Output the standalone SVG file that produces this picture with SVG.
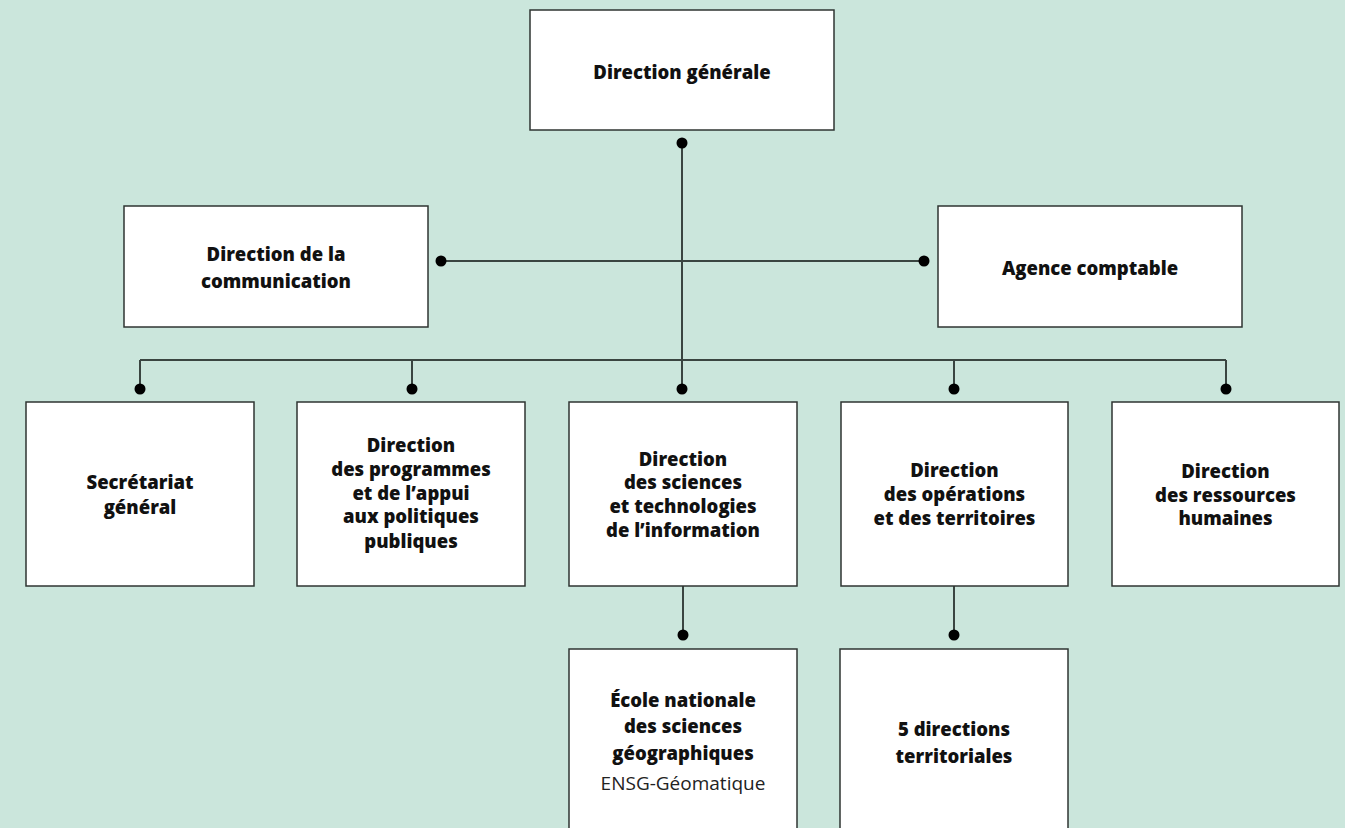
<svg xmlns="http://www.w3.org/2000/svg" width="1345" height="828" viewBox="0 0 1345 828">
<style>
.bg{fill:#cbe6dc}
.box{fill:#ffffff;stroke:#2f3532;stroke-width:1.5}
.t{font-family:"Open Sans","Noto Sans","Liberation Sans",sans-serif;font-weight:800;font-size:18.5px;fill:#111;text-anchor:middle}
.s{font-family:"Open Sans","Noto Sans","Liberation Sans",sans-serif;font-weight:400;font-size:19px;fill:#222;text-anchor:middle}
.ln{stroke:#3a4541;stroke-width:2;fill:none}
.dot{fill:#000}
</style>
<rect class="bg" x="0" y="0" width="1345" height="828"/>
<g id="connectors">
<path class="ln" d="M682 143V389M441 261H924M140 360H1226M140 360V389M412 360V389M954 360V389M1226 360V389M683 586V635M954 586V635"/>
<circle class="dot" cx="682" cy="143" r="5.5"/>
<circle class="dot" cx="441" cy="261" r="5.5"/>
<circle class="dot" cx="924" cy="261" r="5.5"/>
<circle class="dot" cx="140" cy="389" r="5.5"/>
<circle class="dot" cx="412" cy="389" r="5.5"/>
<circle class="dot" cx="682" cy="389" r="5.5"/>
<circle class="dot" cx="954" cy="389" r="5.5"/>
<circle class="dot" cx="1226" cy="389" r="5.5"/>
<circle class="dot" cx="683" cy="635" r="5.5"/>
<circle class="dot" cx="954" cy="635" r="5.5"/>
</g>
<g id="direction-generale">
<rect class="box" x="530" y="10" width="304" height="120"/>
<text class="t" x="682" y="79">Direction générale</text>
</g>
<g id="direction-communication">
<rect class="box" x="124" y="206" width="304" height="121"/>
<text class="t" x="276" y="261">Direction de la</text>
<text class="t" x="276" y="288">communication</text>
</g>
<g id="agence-comptable">
<rect class="box" x="938" y="206" width="304" height="121"/>
<text class="t" x="1090" y="275">Agence comptable</text>
</g>
<g id="secretariat-general">
<rect class="box" x="26" y="402" width="228" height="184"/>
<text class="t" x="140" y="489">Secrétariat</text>
<text class="t" x="140" y="514">général</text>
</g>
<g id="direction-programmes">
<rect class="box" x="297" y="402" width="228" height="184"/>
<text class="t" x="411" y="452">Direction</text>
<text class="t" x="411" y="476">des programmes</text>
<text class="t" x="411" y="500">et de l’appui</text>
<text class="t" x="411" y="523">aux politiques</text>
<text class="t" x="411" y="548">publiques</text>
</g>
<g id="direction-sciences">
<rect class="box" x="569" y="402" width="228" height="184"/>
<text class="t" x="683" y="466">Direction</text>
<text class="t" x="683" y="489">des sciences</text>
<text class="t" x="683" y="513">et technologies</text>
<text class="t" x="683" y="537">de l’information</text>
</g>
<g id="direction-operations">
<rect class="box" x="841" y="402" width="227" height="184"/>
<text class="t" x="954.5" y="477">Direction</text>
<text class="t" x="954.5" y="501">des opérations</text>
<text class="t" x="954.5" y="525">et des territoires</text>
</g>
<g id="direction-ressources">
<rect class="box" x="1112" y="402" width="227" height="184"/>
<text class="t" x="1225.5" y="478">Direction</text>
<text class="t" x="1225.5" y="502">des ressources</text>
<text class="t" x="1225.5" y="525">humaines</text>
</g>
<g id="ensg">
<rect class="box" x="569" y="649" width="228" height="200"/>
<text class="t" x="683" y="707">École nationale</text>
<text class="t" x="683" y="733">des sciences</text>
<text class="t" x="683" y="760">géographiques</text>
<text class="s" x="683" y="790">ENSG-Géomatique</text>
</g>
<g id="directions-territoriales">
<rect class="box" x="840" y="649" width="228" height="200"/>
<text class="t" x="954" y="736">5 directions</text>
<text class="t" x="954" y="763">territoriales</text>
</g>
</svg>
